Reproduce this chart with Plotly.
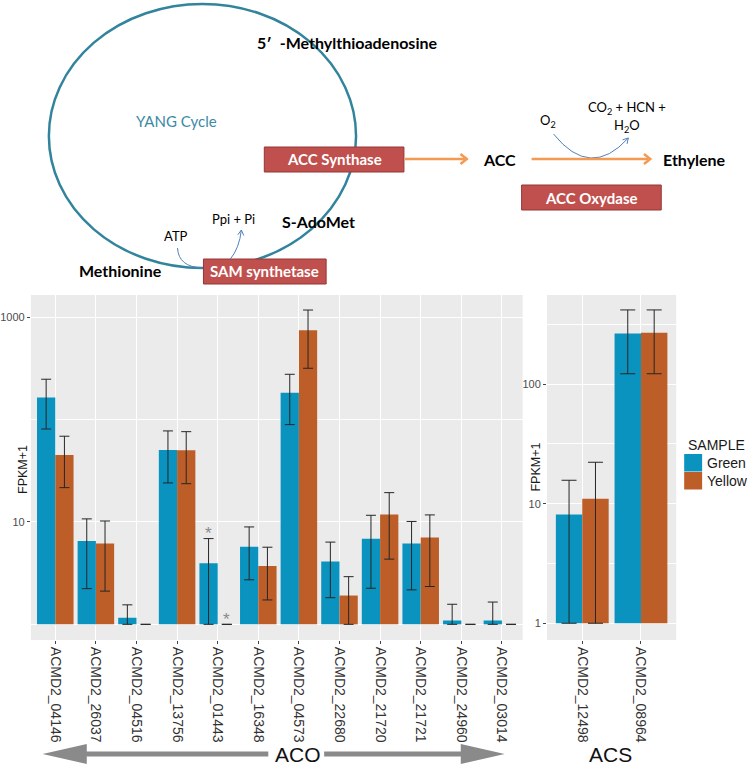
import math
import plotly.graph_objects as go

# ---------------- data ----------------
aco_genes = ['ACMD2_04146', 'ACMD2_26037', 'ACMD2_04516', 'ACMD2_13756', 'ACMD2_01443', 'ACMD2_16348',
             'ACMD2_04573', 'ACMD2_22680', 'ACMD2_21720', 'ACMD2_21721', 'ACMD2_24960', 'ACMD2_03014']
green_aco = [164, 6.5, 1.16, 50.3, 3.94, 5.73, 182, 4.1, 6.83, 6.15, 1.09, 1.09]
green_aco_hi = [247, 10.7, 1.55, 77.3, 6.87, 8.93, 276, 6.35, 11.6, 10.1, 1.57, 1.65]
green_aco_lo = [80.7, 2.23, 1.0, 24.0, 1.0, 2.72, 89, 1.82, 2.25, 2.17, 1.0, 1.0]
yellow_aco = [45, 6.15, 1.0, 50.0, 1.0, 3.72, 741, 1.91, 11.8, 7.03, 1.0, 1.0]
yellow_aco_hi = [68.6, 10.2, 1.0, 76.0, 1.0, 5.66, 1170, 2.92, 19.3, 11.7, 1.0, 1.0]
yellow_aco_lo = [21.6, 2.11, 1.0, 23.6, 1.0, 1.73, 316, 1.0, 4.33, 2.34, 1.0, 1.0]

acs_genes = ['ACMD2_12498', 'ACMD2_08964']
green_acs = [8.1, 265]
green_acs_hi = [15.7, 417]
green_acs_lo = [1.0, 122]
yellow_acs = [11.0, 269]
yellow_acs_hi = [22.2, 417]
yellow_acs_lo = [1.0, 122]

star_gene = 'ACMD2_01443'
samples = ['Green', 'Yellow']
aco_ticks = [10, 1000]
acs_ticks = [1, 10, 100]

# ---------------- style ----------------
W, H = 750, 767
GREEN = '#0a93bf'
YELLOW = '#bd5e29'
ERR = '#262626'
PANEL = '#EBEBEB'
BOX = '#c0504d'
BOXLINE = '#943634'
ORANGE = '#f49a52'
BLUE = '#4f81bd'
TEAL = '#31849b'
DIAG_FONT = 'Lato, Noto Sans, sans-serif'
CHART_FONT = 'Liberation Sans, Arial, sans-serif'


def px(x):
    return x / W


def py(y):
    return 1 - y / H


fig = go.Figure()

BW = 0.45


def add_panel(genes, g, g_hi, g_lo, yv, y_hi, y_lo, xa, ya, capw):
    idx = list(range(len(genes)))
    for vals, hi, lo, col, off, name in [(g, g_hi, g_lo, GREEN, -BW, 'Green'),
                                         (yv, y_hi, y_lo, YELLOW, 0.0, 'Yellow')]:
        fig.add_trace(go.Bar(
            x=idx, y=[v - 1 for v in vals], base=1, width=BW, offset=off,
            marker=dict(color=col, line=dict(width=0)), name=name,
            showlegend=False, xaxis=xa, yaxis=ya, hoverinfo='skip'))
        fig.add_trace(go.Scatter(
            x=[i + off + BW / 2 for i in idx], y=vals, mode='markers',
            marker=dict(size=1, opacity=0),
            error_y=dict(type='data', symmetric=False,
                         array=[h - v for h, v in zip(hi, vals)],
                         arrayminus=[v - l for v, l in zip(vals, lo)],
                         color=ERR, thickness=1, width=capw),
            showlegend=False, xaxis=xa, yaxis=ya, hoverinfo='skip'))


add_panel(aco_genes, green_aco, green_aco_hi, green_aco_lo,
          yellow_aco, yellow_aco_hi, yellow_aco_lo, 'x', 'y', 5)
add_panel(acs_genes, green_acs, green_acs_hi, green_acs_lo,
          yellow_acs, yellow_acs_hi, yellow_acs_lo, 'x2', 'y2', 7.5)

annotations = []
shapes = []

# significance stars
si = aco_genes.index(star_gene)
for off, hi in [(-BW / 2, green_aco_hi[si]), (BW / 2, yellow_aco_hi[si])]:
    annotations.append(dict(x=si + off, y=math.log10(hi), xref='x', yref='y', text='*',
                            showarrow=False, yanchor='middle', yshift=5,
                            font=dict(family=CHART_FONT, size=17, color='#8a8a8a')))

# axis titles
for x, y in [(21, 469), (535, 467)]:
    annotations.append(dict(x=px(x), y=py(y), xref='paper', yref='paper', text='FPKM+1',
                            textangle=-90, showarrow=False, xanchor='center', yanchor='middle',
                            font=dict(family=CHART_FONT, size=12.5, color='#1a1a1a')))

# legend (custom, ggplot-like)
annotations.append(dict(x=px(686), y=py(445), xref='paper', yref='paper', text='SAMPLE',
                        showarrow=False, xanchor='left', yanchor='middle',
                        font=dict(family=CHART_FONT, size=14, color='#1a1a1a')))
for (y0, y1), col, name in [((454, 471.5), GREEN, samples[0]), ((472, 489.5), YELLOW, samples[1])]:
    shapes.append(dict(type='rect', xref='paper', yref='paper', x0=px(684), x1=px(702),
                       y0=py(y1), y1=py(y0), fillcolor=col, line=dict(width=0)))
    annotations.append(dict(x=px(705), y=py((y0 + y1) / 2), xref='paper', yref='paper', text=name,
                            showarrow=False, xanchor='left', yanchor='middle',
                            font=dict(family=CHART_FONT, size=14, color='#1a1a1a')))

# bottom group arrows
shapes.append(dict(type='path', xref='paper', yref='paper', fillcolor='#8a8a8a', line=dict(width=0),
                   path='M {},{} L {},{} L {},{} L {},{} L {},{} L {},{} L {},{} Z'.format(
                       px(40.7), py(754), px(85), py(744), px(85), py(751.5), px(267), py(751.5),
                       px(267), py(756.5), px(85), py(756.5), px(85), py(764))))
shapes.append(dict(type='path', xref='paper', yref='paper', fillcolor='#8a8a8a', line=dict(width=0),
                   path='M {},{} L {},{} L {},{} L {},{} L {},{} L {},{} L {},{} Z'.format(
                       px(323), py(751.5), px(460), py(751.5), px(460), py(744), px(504), py(754),
                       px(460), py(764), px(460), py(756.5), px(323), py(756.5))))
for t, x in [('ACO', 297), ('ACS', 610)]:
    annotations.append(dict(x=px(x), y=py(754), xref='paper', yref='paper', text=t, showarrow=False,
                            xanchor='center', yanchor='middle',
                            font=dict(family=CHART_FONT, size=21, color='#111111')))

# ---------------- top pathway diagram ----------------
shapes.append(dict(type='circle', xref='paper', yref='paper', x0=px(47), x1=px(355),
                   y0=py(268), y1=py(4), line=dict(color=TEAL, width=2.5)))

boxes = [('ACC Synthase', 263, 403, 147, 172), ('SAM synthetase', 202, 325, 259, 284),
         ('ACC Oxydase', 521, 661, 185, 210)]
for t, x0, x1, y0, y1 in boxes:
    shapes.append(dict(type='rect', xref='paper', yref='paper', x0=px(x0), x1=px(x1),
                       y0=py(y1), y1=py(y0), fillcolor=BOX, line=dict(color=BOXLINE, width=1)))
    annotations.append(dict(x=px((x0 + x1) / 2), y=py((y0 + y1) / 2), xref='paper', yref='paper',
                            text='<b>%s</b>' % t, showarrow=False, xanchor='center', yanchor='middle',
                            font=dict(family=DIAG_FONT, size=15, color='white')))


def curve(x0, y0, cx, cy, x1, y1):
    return 'M {},{} Q {},{} {},{}'.format(px(x0), py(y0), px(cx), py(cy), px(x1), py(y1))


def head(tx, ty, dx, dy, L=6, ang=30):
    n = math.hypot(dx, dy)
    ux, uy = dx / n, dy / n
    pts = []
    for a in (math.radians(ang), -math.radians(ang)):
        rx = -(ux * math.cos(a) - uy * math.sin(a))
        ry = -(ux * math.sin(a) + uy * math.cos(a))
        pts.append((tx + rx * L, ty + ry * L))
    return 'M {},{} L {},{} L {},{}'.format(px(pts[0][0]), py(pts[0][1]), px(tx), py(ty),
                                            px(pts[1][0]), py(pts[1][1]))


for p in [curve(553, 134, 590, 180, 628, 138), head(628, 138, 38, -42),
          curve(176, 248, 177, 267, 201, 268),
          curve(229, 259, 238, 248, 240, 230), head(240, 230, 2, -18)]:
    shapes.append(dict(type='path', xref='paper', yref='paper', path=p,
                       line=dict(color=BLUE, width=1)))

# orange reaction arrows
for (x0, x1) in [(404, 466), (531, 650)]:
    shapes.append(dict(type='line', xref='paper', yref='paper', x0=px(x0), x1=px(x1 - 2),
                       y0=py(159), y1=py(159), line=dict(color=ORANGE, width=2.5)))
    shapes.append(dict(type='path', xref='paper', yref='paper', path=head(x1, 159, 1, 0, L=8, ang=38),
                       line=dict(color=ORANGE, width=2.5)))

labels = [
    ('<b>5\u2032\u2002-Methylthioadenosine</b>', 345.5, 43, 16, 'black'),
    ('YANG Cycle', 175, 121, 15, '#3b8aa6'),
    ('<b>ACC</b>', 498.5, 159, 16, 'black'),
    ('<b>Ethylene</b>', 694, 159, 16, 'black'),
    ('O<sub>2</sub>', 547, 121, 13, 'black'),
    ('CO<sub>2</sub> + HCN +', 626.7, 108, 13, 'black'),
    ('H<sub>2</sub>O', 626.7, 126, 13, 'black'),
    ('<b>Methionine</b>', 119, 270, 16, 'black'),
    ('ATP', 174, 236, 13, 'black'),
    ('Ppi + Pi', 232.5, 219, 13, 'black'),
    ('<b>S-AdoMet</b>', 317.5, 222, 16, 'black'),
]
for t, x, y, s, c in labels:
    annotations.append(dict(x=px(x), y=py(y), xref='paper', yref='paper', text=t, showarrow=False,
                            xanchor='center', yanchor='middle',
                            font=dict(family=DIAG_FONT, size=s, color=c)))

# ---------------- axes ----------------
common_x = dict(showgrid=True, gridcolor='white', gridwidth=1.1, zeroline=False, ticks='outside',
                ticklen=3, tickcolor='#444', tickangle=90,
                tickfont=dict(family=CHART_FONT, size=14, color='#333333'), fixedrange=True)
common_y = dict(type='log', showgrid=True, gridcolor='white', gridwidth=1.1, zeroline=False,
                ticks='outside', ticklen=3, tickcolor='#444',
                tickfont=dict(family=CHART_FONT, size=11, color='#4d4d4d'), fixedrange=True)

fig.update_layout(
    width=W, height=H, margin=dict(l=0, r=0, t=0, b=0),
    paper_bgcolor='white', plot_bgcolor=PANEL, barmode='overlay', showlegend=False,
    xaxis=dict(domain=[px(29), px(522)], range=[-0.6, 11.51], anchor='y',
               tickmode='array', tickvals=list(range(len(aco_genes))), ticktext=aco_genes, **common_x),
    yaxis=dict(domain=[py(640), py(295)], range=[-0.153, 3.215], anchor='x',
               tickmode='array', tickvals=aco_ticks, ticktext=[str(v) for v in aco_ticks],
               minor=dict(tickmode='array', tickvals=[1, 100], showgrid=True, gridcolor='white',
                          gridwidth=0.5, ticks=''),
               **common_y),
    xaxis2=dict(domain=[px(546.5), px(676)], range=[-0.6, 1.6], anchor='y2',
                tickmode='array', tickvals=list(range(len(acs_genes))), ticktext=acs_genes, **common_x),
    yaxis2=dict(domain=[py(640), py(295)], range=[-0.14, 2.745], anchor='x2',
                tickmode='array', tickvals=acs_ticks, ticktext=[str(v) for v in acs_ticks],
                minor=dict(tickmode='array', tickvals=[3.162, 31.62, 316.2], showgrid=True,
                           gridcolor='white', gridwidth=0.5, ticks=''),
                **common_y),
    annotations=annotations, shapes=shapes,
)

fig.write_html('out.html', config={'displayModeBar': False},
               post_script="document.body.style.margin='0';document.body.style.overflow='hidden';")
